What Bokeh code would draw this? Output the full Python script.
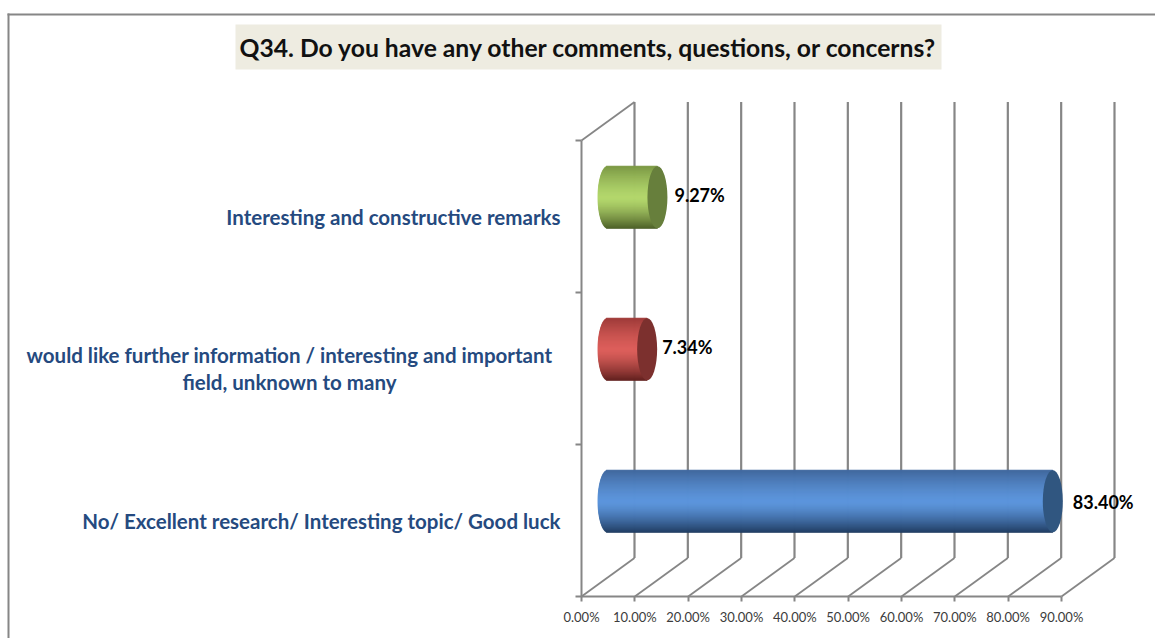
import numpy as np
from bokeh.plotting import figure
from bokeh.models import Range1d, LinearAxis, FixedTicker, Label, BoxAnnotation, ColumnDataSource
from bokeh.core.properties import value
from bokeh.embed import file_html
from bokeh.resources import INLINE

title = "Q34. Do you have any other comments, questions, or concerns?"
categories = ["No/ Excellent research/ Interesting topic/ Good luck",
              "would like further information / interesting and important\nfield, unknown to many",
              "Interesting and constructive remarks"]
values = [83.40, 7.34, 9.27]
labels = ["83.40%", "7.34%", "9.27%"]
x_ticks = [0, 10, 20, 30, 40, 50, 60, 70, 80, 90]
x_tick_labels = {t: f"{t:.2f}%" for t in x_ticks}
y_ticks = [0, 1, 2, 3]

# (edge, centre, edge, cap) colours per series
palettes = [("#41699f", "#5c95dc", "#1f3b60", "#305680"),
            ("#a03b39", "#dc5e5a", "#5f1f1d", "#7c302e"),
            ("#7c9a45", "#b3d76c", "#4b5e27", "#677f3c")]

GRID = "#868686"
FONT = "Lato"
PX_X = 480 / 90      # px per percent
PX_Y = 152           # px per category
DX = 53 / PX_X       # 3-D depth offset in data units
DY = 38.5 / PX_Y
RX = 10 / PX_X
BAR_H = 62 / PX_Y

p = figure(width=1155, height=638, output_backend="svg", toolbar_location=None,
           x_range=Range1d(-581 / PX_X, (1155 - 581) / PX_X), y_range=Range1d(-42 / PX_Y, 596 / PX_Y),
           x_axis_type=None, y_axis_type=None,
           min_border_left=0, min_border_right=0, min_border_top=0, min_border_bottom=0,
           outline_line_color=None, background_fill_color="white", border_fill_color="white")
p.grid.visible = False

# real axes, fixed at the chart's zero lines
xa = LinearAxis(ticker=FixedTicker(ticks=x_ticks), major_label_overrides=x_tick_labels,
                fixed_location=0, bounds=(0, 90), axis_line_color=GRID, axis_line_width=2,
                major_tick_line_color=GRID, major_tick_line_width=2,
                major_tick_in=0, major_tick_out=5, minor_tick_line_color=None,
                major_label_text_font=FONT, major_label_text_font_size="13px",
                major_label_text_color="#3c3c3c", major_label_standoff=7)
p.add_layout(xa, "below")
ya = LinearAxis(ticker=FixedTicker(ticks=y_ticks), fixed_location=0, bounds=(0, 3),
                axis_line_color=GRID, axis_line_width=2,
                major_tick_line_color=GRID, major_tick_line_width=2,
                major_tick_in=0, major_tick_out=6, minor_tick_line_color=None,
                major_label_text_color=None, major_label_text_font_size="1px")
p.add_layout(ya, "left")

# 3-D walls
gx = [t + DX for t in x_ticks]
p.segment(gx, [DY] * len(gx), gx, [3 + DY] * len(gx), line_color=GRID, line_width=2.2)
p.segment(x_ticks, [0] * len(gx), gx, [DY] * len(gx), line_color=GRID, line_width=1.8)
p.segment([0], [3], [DX], [3 + DY], line_color=GRID, line_width=1.8)

# cylinders
n = 62
for i, (val, lab, pal) in enumerate(zip(values, labels, palettes)):
    yc = i + 0.5 + DY / 2
    ts = np.linspace(-1, 1, n + 1)
    tm = (ts[:-1] + ts[1:]) / 2
    c0, c1, c2, cap = [np.array([int(c[k:k + 2], 16) for k in (1, 3, 5)], float) for c in pal]
    cols = []
    for t in tm:
        rgb = c1 + (c2 - c1) * (-t) ** 1.4 if t < 0 else c1 + (c0 - c1) * t ** 1.4
        cols.append("#%02x%02x%02x" % tuple(int(v) for v in rgb))
    left = DX / 2 - RX * np.sqrt(1 - tm ** 2)
    x1 = DX / 2 + val
    p.quad(left=left, right=[x1] * n, bottom=yc + ts[:-1] * BAR_H / 2, top=yc + ts[1:] * BAR_H / 2,
           fill_color=cols, line_color=cols, line_width=1)
    p.ellipse([x1], [yc], width=2 * RX, height=BAR_H, fill_color=pal[3], line_color=None)

x_offsets = [10, 5, 7]
y_offsets = [1, -2, -2]
src = ColumnDataSource(dict(x=[v + DX / 2 + RX for v in values],
                            y=[i + 0.5 + DY / 2 for i in range(3)],
                            t=labels, xo=x_offsets, yo=y_offsets))
p.text("x", "y", text="t", source=src, x_offset="xo", y_offset="yo",
       text_font=value(FONT), text_font_style="bold", text_font_size="18px",
       text_color="#000000", text_align="left", text_baseline="middle")

# category labels
cat_x = [560, 289, 560]
cat_align = ["right", "center", "right"]
for i, (c, cx, al) in enumerate(zip(categories, cat_x, cat_align)):
    p.add_layout(Label(x=cx, x_units="canvas", y=i + 0.5, text=c, text_align=al, text_baseline="middle",
                       text_font=FONT, text_font_style="bold", text_font_size="20.5px",
                       text_line_height=1.12, text_color="#254a7f"))

# outer frame
p.add_layout(BoxAnnotation(left=7, right=1155, top=13, bottom=15, left_units="canvas", right_units="canvas",
                           top_units="canvas", bottom_units="canvas", fill_color=GRID, fill_alpha=1,
                           line_color=None))
p.add_layout(BoxAnnotation(left=7, right=9, top=13, bottom=638, left_units="canvas", right_units="canvas",
                           top_units="canvas", bottom_units="canvas", fill_color=GRID, fill_alpha=1,
                           line_color=None))

# title
p.add_layout(Label(x=588, x_units="canvas", y=46.5, y_units="canvas", text=title,
                   text_align="center", text_baseline="middle",
                   text_font=FONT, text_font_style="bold", text_font_size="24.7px", text_color="#111111",
                   background_fill_color="#eeece1", padding=(4, 8)))

open("out.html", "w").write(file_html(p, INLINE))
